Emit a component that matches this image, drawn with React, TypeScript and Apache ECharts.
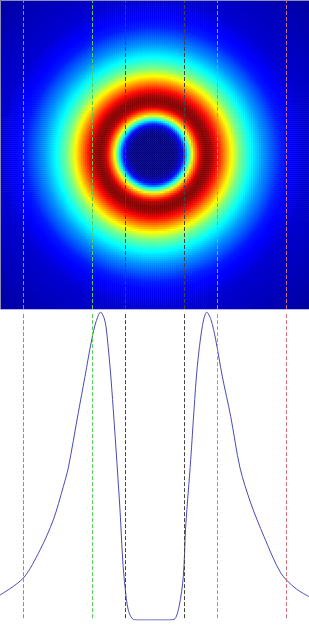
import React, { useEffect, useRef } from "react";
import * as echarts from "echarts";

// Radial intensity profile (distance in px from ring centre -> normalized value)
const profileR = [0, 20, 25, 29, 31, 34, 37, 40, 44, 48, 53, 58, 62, 69, 76, 86, 97, 110, 128, 154, 225];
const profileV = [0, 0.002, 0.032, 0.108, 0.195, 0.357, 0.52, 0.68, 0.82, 0.953, 1.0, 0.975, 0.91, 0.79, 0.665, 0.494, 0.38, 0.27, 0.15, 0.08, 0.03];

// Line profile across the centre row (x in px, normalized value)
const lineX = [0, 23.3, 40, 53.3, 63.3, 68.3, 78.3, 85, 91.7, 96, 100.7, 104, 106, 110, 113.3, 117, 120, 122.7, 125, 128.3, 133.3, 140, 153, 165, 174, 179, 183.3, 185.7, 190.7, 194, 197.3, 202.3, 206.7, 211, 215.7, 222.3, 230.7, 240, 250.7, 264, 280.7, 295, 309];
const lineV = [0.081, 0.136, 0.227, 0.325, 0.433, 0.494, 0.673, 0.791, 0.91, 0.968, 1.0, 0.981, 0.953, 0.823, 0.682, 0.507, 0.357, 0.195, 0.108, 0.032, 0.002, 0, 0, 0, 0.002, 0.043, 0.141, 0.303, 0.52, 0.682, 0.823, 0.953, 1.0, 0.975, 0.91, 0.791, 0.661, 0.494, 0.38, 0.271, 0.153, 0.104, 0.076];

// Vertical dashed marker lines
const markerX = [23.5, 92.5, 125.5, 184.5, 217.5, 286.5];
const markerColor = ["#d0707c", "#55d055", "#444444", "#444444", "#55d055", "#d0707c"];

const jet = ["#00007f", "#0000ff", "#007fff", "#00ffff", "#7fff7f", "#ffff00", "#ff7f00", "#ff0000", "#7f0000"];

const N = 155;
const CELL = 2;
const CX = 154;
const CY = 155;

function profileAt(d: number): number {
  for (let i = 1; i < profileR.length; i++) {
    if (d <= profileR[i]) {
      const t = (d - profileR[i - 1]) / (profileR[i] - profileR[i - 1]);
      return profileV[i - 1] + t * (profileV[i] - profileV[i - 1]);
    }
  }
  return profileV[profileV.length - 1];
}

export default function App() {
  const ref = useRef<HTMLDivElement>(null);
  useEffect(() => {
    document.body.style.margin = "0";
    const chart = echarts.init(ref.current!, null, { renderer: "svg" });
    const cats = Array.from({ length: N }, (_, i) => String(i));
    const heat: number[][] = [];
    for (let i = 0; i < N; i++) {
      for (let j = 0; j < N; j++) {
        const x = i * CELL + 1;
        const y = j * CELL + 1;
        const d = Math.sqrt((x - CX) ** 2 + (y - CY) ** 2);
        heat.push([i, N - 1 - j, profileAt(d)]);
      }
    }
    const markLineFor = (y0: number) => ({
      silent: true,
      symbol: "none",
      label: { show: false },
      data: markerX.map((x, k) => [
        { coord: [x, y0], lineStyle: { color: markerColor[k], width: 1, type: [4, 2] } },
        { coord: [x, 1] },
      ]),
    });
    const series: any[] = [
      {
        type: "heatmap",
        xAxisIndex: 0,
        yAxisIndex: 0,
        data: heat,
        silent: true,
        progressive: 0,
        itemStyle: { borderWidth: 0 },
      },
      {
        type: "line",
        xAxisIndex: 2,
        yAxisIndex: 2,
        data: lineX.map((x, i) => [x, lineV[i]]),
        showSymbol: false,
        smooth: 0.3,
        color: "#4a4ab4",
        lineStyle: { color: "#4a4ab4", width: 1 },
        markLine: markLineFor(0.006),
      },
      {
        type: "line",
        xAxisIndex: 1,
        yAxisIndex: 1,
        data: [],
        showSymbol: false,
        markLine: markLineFor(0),
      },
    ];
    chart.setOption({
      animation: false,
      backgroundColor: "#ffffff",
      grid: [
        { left: 0, top: 0, width: 310, height: 309 },
        { left: 0, top: 0, width: 309, height: 309 },
        { left: 0, top: 312, width: 309, height: 308 },
      ],
      xAxis: [
        { type: "category", gridIndex: 0, data: cats, show: false },
        { type: "value", gridIndex: 1, min: 0, max: 309, show: false },
        { type: "value", gridIndex: 2, min: 0, max: 309, show: false },
      ],
      yAxis: [
        { type: "category", gridIndex: 0, data: cats, show: false },
        { type: "value", gridIndex: 1, min: 0, max: 1, show: false },
        { type: "value", gridIndex: 2, min: 0, max: 1, show: false },
      ],
      visualMap: {
        show: false,
        seriesIndex: 0,
        min: 0,
        max: 1,
        inRange: { color: jet },
      },
      graphic: [
        {
          type: "polyline",
          silent: true,
          z: 100,
          shape: { points: [[0.5, 309], [0.5, 0.5], [309, 0.5]] },
          style: { stroke: "#8c8cb4", lineWidth: 1, fill: null },
        },
      ],
      series,
    });
    return () => chart.dispose();
  }, []);
  return <div ref={ref} style={{ width: 309, height: 628 }} />;
}
